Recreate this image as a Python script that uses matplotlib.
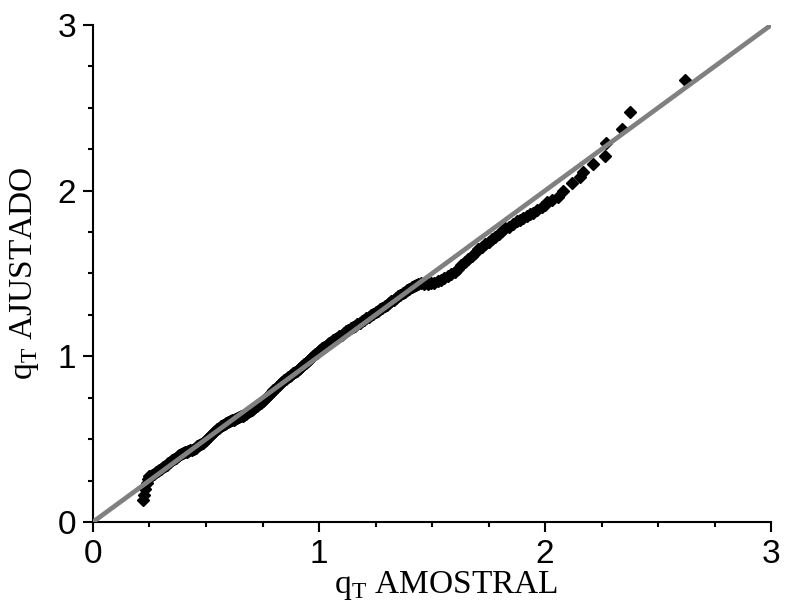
import matplotlib as mpl
mpl.use('Agg')
import matplotlib.pyplot as plt
from matplotlib.ticker import MultipleLocator

# sample quantiles vs. fitted quantiles
q_amostral = [
    0.221, 0.226, 0.232, 0.238, 0.243, 0.248,
    0.255, 0.262, 0.270, 0.278, 0.286, 0.294, 0.302, 0.310, 0.318, 0.326,
    0.334, 0.342, 0.350, 0.358, 0.366, 0.374, 0.382, 0.390, 0.398, 0.406, 0.414,
    0.422, 0.430, 0.438, 0.446, 0.454, 0.462, 0.470, 0.478, 0.486, 0.494,
    0.502, 0.510, 0.518,
    0.526, 0.534, 0.542, 0.550, 0.558, 0.566, 0.574, 0.582, 0.590, 0.598,
    0.606, 0.614, 0.622, 0.630, 0.638, 0.646, 0.654, 0.662, 0.670, 0.678,
    0.686, 0.694, 0.702, 0.710, 0.718, 0.726, 0.734, 0.742, 0.750, 0.758,
    0.766, 0.774, 0.782, 0.790, 0.798,
    0.806, 0.814, 0.822, 0.830, 0.838, 0.846, 0.854, 0.862, 0.870, 0.878,
    0.886, 0.894,
    0.902, 0.910, 0.918, 0.926, 0.934, 0.942, 0.950, 0.958, 0.966, 0.974,
    0.982, 0.990, 0.998, 1.006, 1.014, 1.022, 1.030, 1.038, 1.046, 1.054,
    1.062, 1.070, 1.080, 1.090, 1.100, 1.110, 1.120, 1.130, 1.140, 1.150,
    1.160, 1.170, 1.180, 1.190, 1.200, 1.210, 1.220, 1.230, 1.240, 1.250,
    1.260, 1.270, 1.280, 1.290, 1.300, 1.310, 1.320, 1.330, 1.340, 1.350,
    1.360, 1.370, 1.380, 1.390, 1.400, 1.410, 1.420, 1.430, 1.440, 1.450,
    1.465, 1.480, 1.495, 1.510, 1.525, 1.540, 1.555, 1.570, 1.585, 1.600,
    1.615, 1.630, 1.645, 1.660,
    1.675, 1.690, 1.705, 1.720, 1.735, 1.750, 1.765, 1.780, 1.795, 1.810,
    1.825, 1.840,
    1.860, 1.875, 1.889, 1.903, 1.920, 1.935, 1.947, 1.965, 1.987, 2.000,
    2.009, 2.030, 2.058, 2.080, 2.120, 2.155, 2.170, 2.210, 2.265, 2.270,
    2.340, 2.376, 2.620,
]
q_ajustado = [
    0.130, 0.165, 0.200, 0.235, 0.262, 0.275,
    0.278, 0.283, 0.291, 0.300, 0.307, 0.314, 0.321, 0.329, 0.337, 0.346,
    0.355, 0.363, 0.372, 0.381, 0.389, 0.396, 0.403, 0.410, 0.416, 0.421, 0.425,
    0.428, 0.432, 0.436, 0.442, 0.449, 0.456, 0.462, 0.470, 0.478, 0.487,
    0.497, 0.507, 0.518,
    0.530, 0.541, 0.551, 0.561, 0.569, 0.577, 0.584, 0.592, 0.598, 0.604,
    0.609, 0.613, 0.617, 0.622, 0.627, 0.632, 0.637, 0.642, 0.648, 0.654,
    0.661, 0.668, 0.675, 0.683, 0.692, 0.701, 0.710, 0.719, 0.729, 0.739,
    0.750, 0.761, 0.772, 0.783, 0.794,
    0.805, 0.816, 0.827, 0.838, 0.848, 0.857, 0.866, 0.874, 0.882, 0.890,
    0.897, 0.905,
    0.913, 0.922, 0.931, 0.941, 0.951, 0.961, 0.971, 0.982, 0.992, 1.002,
    1.012, 1.022, 1.031, 1.040, 1.048, 1.056, 1.064, 1.072, 1.080, 1.088,
    1.096, 1.104, 1.113, 1.122, 1.131, 1.141, 1.151, 1.160, 1.169, 1.177,
    1.185, 1.193, 1.202, 1.211, 1.220, 1.229, 1.238, 1.247, 1.256, 1.265,
    1.274, 1.283, 1.292, 1.301, 1.311, 1.321, 1.331, 1.341, 1.352, 1.362,
    1.372, 1.382, 1.391, 1.400, 1.409, 1.417, 1.425, 1.432, 1.438, 1.441,
    1.437, 1.438, 1.440, 1.445, 1.452, 1.460, 1.470, 1.482, 1.496, 1.512,
    1.530, 1.549, 1.568, 1.588,
    1.607, 1.626, 1.645, 1.662, 1.677, 1.692, 1.706, 1.722, 1.740, 1.758,
    1.772, 1.783,
    1.800, 1.815, 1.823, 1.838, 1.848, 1.860, 1.868, 1.885, 1.900, 1.913,
    1.931, 1.945, 1.961, 2.000, 2.048, 2.080, 2.110, 2.160, 2.210, 2.290,
    2.370, 2.474, 2.670,
]
# reference line y = x
ref_line = [0, 3]

plt.rcParams['mathtext.fontset'] = 'custom'
plt.rcParams['mathtext.rm'] = 'Liberation Serif'

fig = plt.figure(figsize=(7.86, 6.10), dpi=100)
ax = fig.add_axes([0.1183, 0.1443, 0.8627, 0.8147])

ax.plot(q_amostral, q_ajustado, linestyle='none', marker='D', markersize=6.2,
        color='black', clip_on=False, zorder=2)
ax.plot(ref_line, ref_line, color='#808080', linewidth=3.4,
        solid_capstyle='butt', zorder=3)

ax.set_xlim(0, 3)
ax.set_ylim(0, 3)
ax.xaxis.set_major_locator(MultipleLocator(1))
ax.yaxis.set_major_locator(MultipleLocator(1))
ax.xaxis.set_minor_locator(MultipleLocator(0.25))
ax.yaxis.set_minor_locator(MultipleLocator(0.25))

for side in ['top', 'right']:
    ax.spines[side].set_visible(False)
for side in ['left', 'bottom']:
    ax.spines[side].set_linewidth(1.5)

ax.tick_params(which='major', direction='out', length=7, width=1.5,
               labelsize=24, pad=5)
ax.tick_params(which='minor', direction='out', length=3.6, width=1.5)
for lab in ax.get_xticklabels() + ax.get_yticklabels():
    lab.set_fontfamily('Liberation Sans')

ax.set_xlabel(r'q$_{\rm T}$ AMOSTRAL', fontfamily='Liberation Serif',
              fontsize=24, labelpad=-4)
ax.xaxis.set_label_coords(0.52, -0.095)
ax.set_ylabel(r'q$_{\rm T}$ AJUSTADO', fontfamily='Liberation Serif',
              fontsize=24, labelpad=12)

fig.savefig('out.png', dpi=100)
